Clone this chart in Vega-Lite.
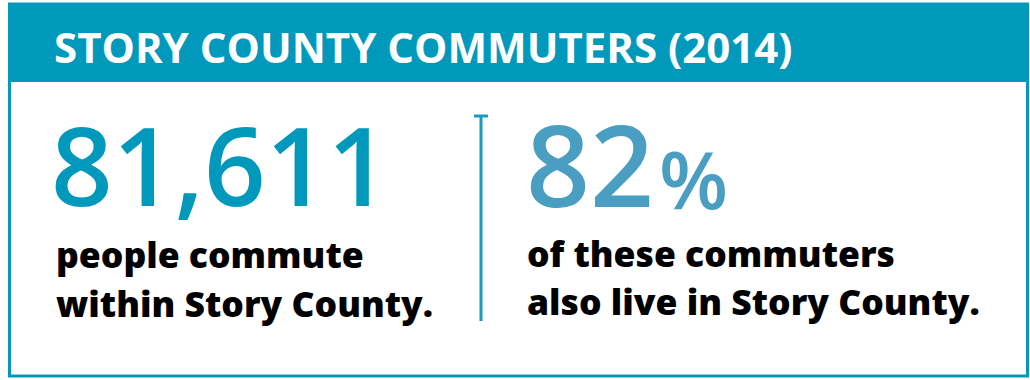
{
  "$schema": "https://vega.github.io/schema/vega-lite/v6.json",
  "width": 1030,
  "height": 380,
  "padding": 0,
  "autosize": {"type": "fit", "contains": "padding"},
  "background": "white",
  "config": {"view": {"stroke": null}},
  "data": {
    "values": [
      {"key": "title", "label": "STORY COUNTY COMMUTERS (2014)"},
      {"key": "commuters", "value": 81611, "unit": "", "line1": "people commute", "line2": "within Story County."},
      {"key": "share", "value": 82, "unit": "%", "line1": "of these commuters", "line2": "also live in Story County."}
    ]
  },
  "layer": [
    {
      "transform": [{"filter": "datum.key === 'title'"}],
      "mark": {"type": "rect", "fill": "white", "stroke": "#0099BC", "strokeWidth": 3},
      "encoding": {
        "x": {"datum": 9.5, "type": "quantitative", "scale": {"domain": [0, 1030], "nice": false, "zero": false}, "axis": null},
        "x2": {"datum": 1027.5},
        "y": {"datum": 4, "type": "quantitative", "scale": {"domain": [0, 380], "nice": false, "zero": false, "reverse": true}, "axis": null},
        "y2": {"datum": 376}
      }
    },
    {
      "transform": [{"filter": "datum.key === 'title'"}],
      "mark": {"type": "rect", "fill": "#0099BC"},
      "encoding": {
        "x": {"datum": 8, "type": "quantitative"},
        "x2": {"datum": 1029},
        "y": {"datum": 3, "type": "quantitative"},
        "y2": {"datum": 82}
      }
    },
    {
      "transform": [{"filter": "datum.key === 'title'"}],
      "mark": {"type": "text", "align": "left", "baseline": "alphabetic", "font": "Open Sans", "fontWeight": "bold", "fontSize": 42, "color": "white"},
      "encoding": {
        "x": {"datum": 54, "type": "quantitative"},
        "y": {"datum": 63, "type": "quantitative"},
        "text": {"field": "label"}
      }
    },
    {
      "transform": [{"filter": "datum.key === 'commuters'"}],
      "mark": {"type": "text", "align": "left", "baseline": "alphabetic", "font": "Open Sans", "fontWeight": 600, "fontSize": 108, "color": "#0099BC"},
      "encoding": {
        "x": {"datum": 51, "type": "quantitative"},
        "y": {"datum": 206, "type": "quantitative"},
        "text": {"field": "value", "type": "quantitative", "format": ","}
      }
    },
    {
      "transform": [{"filter": "datum.key === 'commuters'"}],
      "mark": {"type": "text", "align": "left", "baseline": "alphabetic", "font": "Open Sans", "fontWeight": 800, "fontSize": 35.5, "color": "#000000"},
      "encoding": {
        "x": {"datum": 56, "type": "quantitative"},
        "y": {"datum": 268, "type": "quantitative"},
        "text": {"field": "line1"}
      }
    },
    {
      "transform": [{"filter": "datum.key === 'commuters'"}],
      "mark": {"type": "text", "align": "left", "baseline": "alphabetic", "font": "Open Sans", "fontWeight": 800, "fontSize": 35.5, "color": "#000000"},
      "encoding": {
        "x": {"datum": 56, "type": "quantitative"},
        "y": {"datum": 317, "type": "quantitative"},
        "text": {"field": "line2"}
      }
    },
    {
      "transform": [{"filter": "datum.key === 'title'"}],
      "mark": {"type": "rule", "color": "#1A9BBE", "strokeWidth": 3},
      "encoding": {
        "x": {"datum": 481, "type": "quantitative"},
        "y": {"datum": 116, "type": "quantitative"},
        "y2": {"datum": 321}
      }
    },
    {
      "transform": [{"filter": "datum.key === 'title'"}],
      "mark": {"type": "rule", "color": "#1A9BBE", "strokeWidth": 3},
      "encoding": {
        "x": {"datum": 474, "type": "quantitative"},
        "x2": {"datum": 488},
        "y": {"datum": 116, "type": "quantitative"}
      }
    },
    {
      "transform": [{"filter": "datum.key === 'share'"}],
      "mark": {"type": "text", "align": "left", "baseline": "alphabetic", "font": "Open Sans", "fontWeight": 600, "fontSize": 112, "color": "#4A9EC2"},
      "encoding": {
        "x": {"datum": 526, "type": "quantitative"},
        "y": {"datum": 207, "type": "quantitative"},
        "text": {"field": "value", "type": "quantitative", "format": "d"}
      }
    },
    {
      "transform": [{"filter": "datum.key === 'share'"}],
      "mark": {"type": "text", "align": "left", "baseline": "alphabetic", "font": "Open Sans", "fontWeight": 600, "fontSize": 80, "color": "#4A9EC2"},
      "encoding": {
        "x": {"datum": 659, "type": "quantitative"},
        "y": {"datum": 209, "type": "quantitative"},
        "text": {"field": "unit"}
      }
    },
    {
      "transform": [{"filter": "datum.key === 'share'"}],
      "mark": {"type": "text", "align": "left", "baseline": "alphabetic", "font": "Open Sans", "fontWeight": 800, "fontSize": 35.5, "color": "#000000"},
      "encoding": {
        "x": {"datum": 527, "type": "quantitative"},
        "y": {"datum": 267, "type": "quantitative"},
        "text": {"field": "line1"}
      }
    },
    {
      "transform": [{"filter": "datum.key === 'share'"}],
      "mark": {"type": "text", "align": "left", "baseline": "alphabetic", "font": "Open Sans", "fontWeight": 800, "fontSize": 35.5, "color": "#000000"},
      "encoding": {
        "x": {"datum": 527, "type": "quantitative"},
        "y": {"datum": 315, "type": "quantitative"},
        "text": {"field": "line2"}
      }
    }
  ]
}
